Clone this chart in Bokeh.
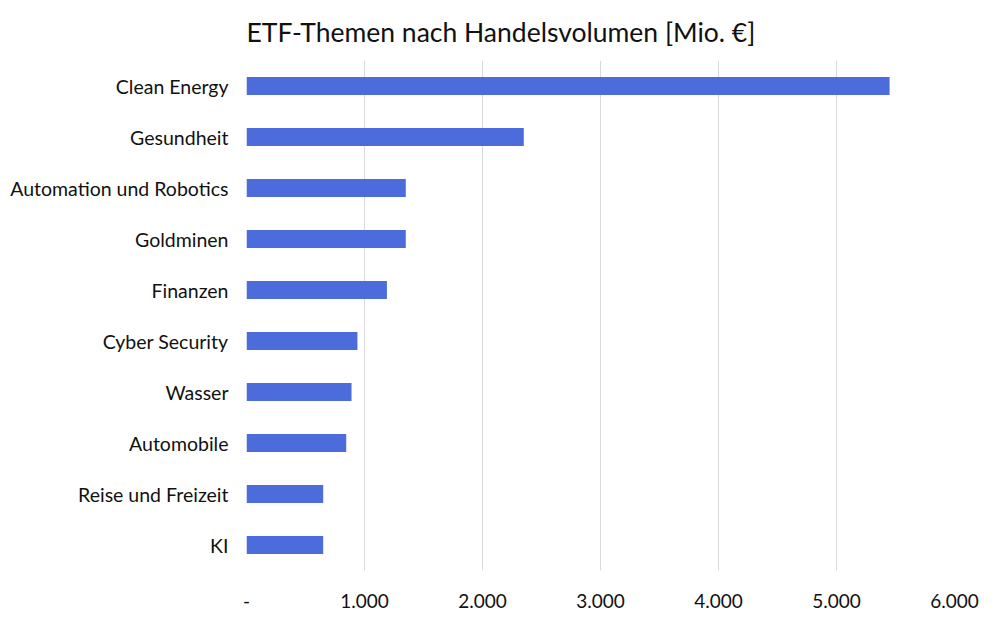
from bokeh.plotting import figure
from bokeh.models import FactorRange, Range1d, FixedTicker, ColumnDataSource
from bokeh.embed import file_html
from bokeh.resources import INLINE

categories = ["Clean Energy", "Gesundheit", "Automation und Robotics", "Goldminen",
              "Finanzen", "Cyber Security", "Wasser", "Automobile",
              "Reise und Freizeit", "KI"]
volumes = [5450, 2350, 1350, 1350, 1190, 940, 890, 845, 650, 650]
tick_values = [0, 1000, 2000, 3000, 4000, 5000, 6000]
tick_labels = ["-", "1.000", "2.000", "3.000", "4.000", "5.000", "6.000"]

FONT = "Lato"
BAR = "#4d6cdc"

src = ColumnDataSource(dict(cat=categories, val=volumes))

p = figure(width=1004, height=622, output_backend="svg", toolbar_location=None,
           y_range=FactorRange(factors=list(reversed(categories)), range_padding=0),
           x_range=Range1d(0, 6000),
           min_border_left=246, min_border_right=50, min_border_top=60,
           min_border_bottom=52,
           title="ETF-Themen nach Handelsvolumen [Mio. €]")

p.hbar(y="cat", right="val", left=0, height=0.35, source=src,
       color=BAR, line_color=None)

p.title.text_font = FONT
p.title.text_font_size = "26.5px"
p.title.text_font_style = "normal"
p.title.text_color = "#111111"
p.title.standoff = 25

p.outline_line_color = None
p.background_fill_color = "white"
p.border_fill_color = "white"

p.ygrid.grid_line_color = None
p.xgrid.grid_line_color = "#d9d9d9"
p.xgrid.grid_line_width = 1
p.xaxis.ticker = FixedTicker(ticks=tick_values)
p.xaxis.major_label_overrides = {v: l for v, l in zip(tick_values, tick_labels)}

for ax in (p.xaxis[0], p.yaxis[0]):
    ax.axis_line_color = None
    ax.major_tick_line_color = None
    ax.minor_tick_line_color = None
    ax.major_label_text_font = FONT
    ax.major_label_text_color = "#111111"

p.xaxis.major_label_text_font_size = "19px"
p.xaxis.major_label_standoff = 17
p.yaxis.major_label_text_font_size = "19.5px"
p.yaxis.major_label_standoff = 12

open("out.html", "w").write(file_html(p, INLINE))
